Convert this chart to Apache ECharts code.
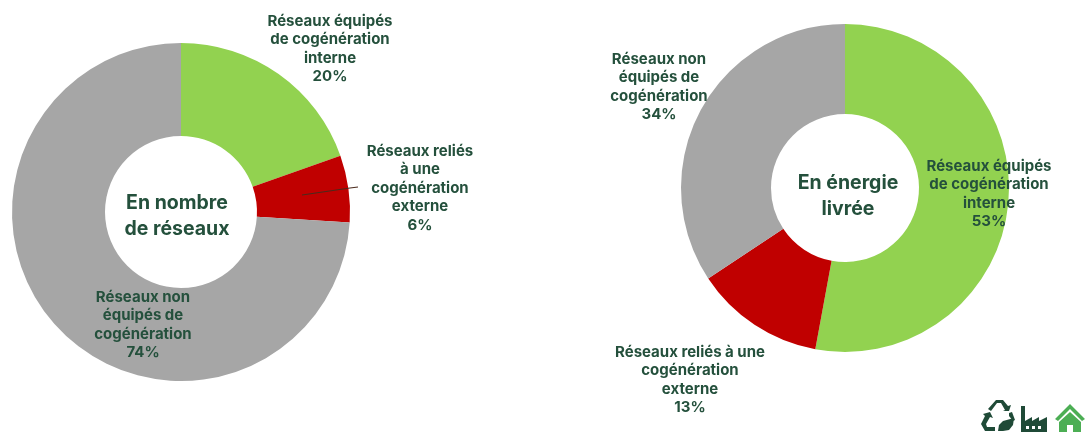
<!DOCTYPE html>
<html>
<head>
<meta charset="utf-8">
<style>html,body{margin:0;padding:0;background:#fff}#chart{width:1085px;height:432px}</style>
<script src="https://cdn.jsdelivr.net/npm/echarts@6/dist/echarts.min.js"></script>
</head>
<body>
<div id="chart"></div>
<script>
var leftNames = ['Réseaux équipés\nde cogénération\ninterne', 'Réseaux reliés\nà une\ncogénération\nexterne', 'Réseaux non\néquipés de\ncogénération'];
var leftValues = [19.6, 6.4, 74];
var rightNames = ['Réseaux équipés\nde cogénération\ninterne', 'Réseaux reliés à une\ncogénération\nexterne', 'Réseaux non\néquipés de\ncogénération'];
var rightValues = [52.9, 12.8, 34.3];
var colors = ['#92d250', '#c00000', '#a6a6a6'];
var textColor = '#24503c';
var font = 'Inter';

// label centres, in picture pixels
var leftLabelPos = [[330, 49], [420, 188], [143, 325]];
var rightLabelPos = [[989, 194], [690, 380], [659, 87]];

function pieData(names, values) {
	return names.map(function(n, i) {
		return {
			name: n,
			value: values[i],
			itemStyle: {color: colors[i]}
		};
	});
}

function pieSeries(names, values, pos, center, radius) {
	return {
		type: 'pie',
		center: center,
		radius: radius,
		startAngle: 90,
		clockwise: true,
		silent: true,
		animation: false,
		avoidLabelOverlap: false,
		z: 2,
		itemStyle: {borderWidth: 0},
		label: {
			show: true,
			position: 'outside',
			formatter: function(p) {
				return p.name + '\n' + Math.round(p.value) + '%';
			},
			color: textColor,
			fontFamily: font,
			fontWeight: 700,
			fontSize: 15,
			lineHeight: 18.5,
			overflow: 'none',
			width: 220,
			align: 'center',
			verticalAlign: 'middle'
		},
		labelLine: {show: false},
		labelLayout: function(p) {
			return {x: pos[p.dataIndex][0], y: pos[p.dataIndex][1], align: 'center', verticalAlign: 'middle', hideOverlap: false};
		},
		data: pieData(names, values)
	};
}

function icon(points, color) {
	return {type: 'polygon', z: 50, shape: {points: points}, style: {fill: color}};
}

var chart = echarts.init(document.getElementById('chart'));
chart.setOption({
	backgroundColor: '#ffffff',
	animation: false,
	series: [
		pieSeries(leftNames, leftValues, leftLabelPos, [181, 212], [76, 169]),
		pieSeries(rightNames, rightValues, rightLabelPos, [845, 188], [74, 164])
	],
	graphic: [
		{type: 'text', z: 50, x: 177, y: 216, style: {text: 'En nombre\nde réseaux', fill: textColor, font: '700 19.5px Inter', lineHeight: 26, align: 'center', verticalAlign: 'middle'}},
		{type: 'text', z: 50, x: 848, y: 196, style: {text: 'En énergie\nlivrée', fill: textColor, font: '700 19.5px Inter', lineHeight: 26, align: 'center', verticalAlign: 'middle'}},
		// leader line of the 6% label
		{type: 'polyline', z: 50, shape: {points: [[302, 195], [350, 188], [358, 187]]}, style: {stroke: '#4a2a1c', lineWidth: 1.2, fill: null}},
		// recycling icon
		icon([[991, 411], [997, 403], [1001, 403], [1005, 410], [1003, 411], [1009, 411], [1011, 405], [1008, 406], [1003, 400], [996, 400], [988, 409]], '#1f4a37'),
		icon([[983, 414], [990, 412], [993, 418], [990, 417], [986, 424], [987, 427], [995, 427], [995, 431], [985, 431], [981, 424], [985, 416]], '#1f4a37'),
		icon([[1009, 413], [1012, 412], [1015, 420], [1013, 421], [1009, 416]], '#1f4a37'),
		icon([[998, 431], [999, 425], [1003, 421], [1014, 418], [1013, 425], [1009, 430], [1003, 431]], '#1f4a37'),
		// factory icon
		icon([[1021, 406], [1025, 406], [1025, 421], [1032, 417], [1032, 421], [1039, 417], [1039, 421], [1047, 417], [1047, 432], [1021, 432]], '#1f4a37'),
		{type: 'rect', z: 51, shape: {x: 1026, y: 426, width: 3, height: 3}, style: {fill: '#ffffff'}},
		{type: 'rect', z: 51, shape: {x: 1032, y: 426, width: 3, height: 3}, style: {fill: '#ffffff'}},
		{type: 'rect', z: 51, shape: {x: 1038, y: 426, width: 3, height: 3}, style: {fill: '#ffffff'}},
		// house icon
		icon([[1070, 404], [1085, 419], [1082, 421], [1070, 409], [1058, 421], [1055, 419]], '#4cae54'),
		icon([[1070, 412], [1081, 422], [1081, 432], [1073, 432], [1073, 425], [1067, 425], [1067, 432], [1059, 432], [1059, 422]], '#4cae54')
	]
});
</script>
</body>
</html>
